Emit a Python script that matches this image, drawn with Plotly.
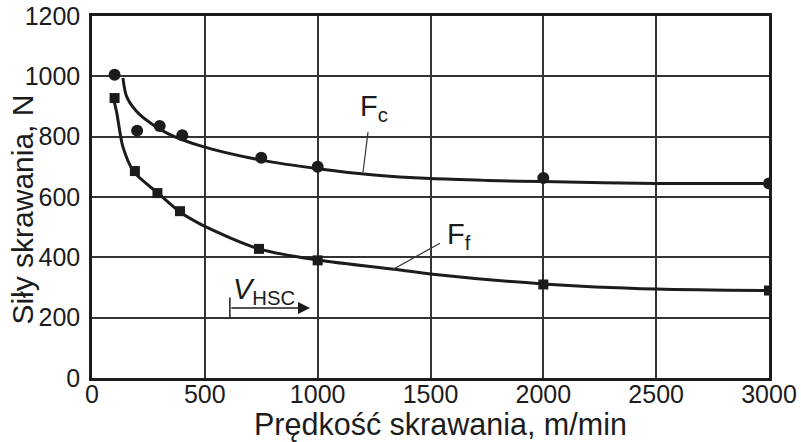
import plotly.graph_objects as go

# Measured cutting forces (points)
v_fc = [100, 200, 300, 400, 750, 1000, 2000, 3000]
fc_pts = [1005, 820, 835, 805, 730, 700, 663, 645]
v_ff = [100, 190, 290, 390, 740, 1000, 2000, 3000]
ff_pts = [928, 686, 613, 553, 428, 390, 310, 290]

# Fitted trend curves
v_fc_fit = [137, 155, 213, 332, 496, 744, 1010, 1250, 1500, 1750, 2000, 2500, 3000]
fc_fit = [995, 930, 872, 812, 766, 723, 693, 673, 661, 655, 651, 645, 645]
v_ff_fit = [97, 110, 137, 186, 292, 390, 496, 740, 1000, 1365, 1500, 2000, 2500, 3000]
ff_fit = [921, 878, 766, 683, 613, 550, 504, 428, 391, 358, 345, 312, 295, 290]

x_ticks = [0, 500, 1000, 1500, 2000, 2500, 3000]
y_ticks = [0, 200, 400, 600, 800, 1000, 1200]

FONT = "Liberation Sans, Arial, sans-serif"
INK = "#1c1c1c"
GRID = "#333333"

fig = go.Figure()

fig.add_trace(go.Scatter(x=v_fc_fit, y=fc_fit, mode="lines",
                         line=dict(color=INK, width=3, shape="spline", smoothing=0.8),
                         hoverinfo="skip"))
fig.add_trace(go.Scatter(x=v_ff_fit, y=ff_fit, mode="lines",
                         line=dict(color=INK, width=3, shape="spline", smoothing=0.8),
                         hoverinfo="skip"))
fig.add_trace(go.Scatter(x=v_fc, y=fc_pts, mode="markers",
                         marker=dict(symbol="circle", size=12, color=INK)))
fig.add_trace(go.Scatter(x=v_ff, y=ff_pts, mode="markers",
                         marker=dict(symbol="square", size=10, color=INK)))

# Leader lines for the series labels
fig.add_shape(type="line", x0=1201, y0=683, x1=1223, y1=815,
              line=dict(color=GRID, width=1.2))
fig.add_shape(type="line", x0=1329, y0=358, x1=1542, y1=447,
              line=dict(color=GRID, width=1.2))

fig.add_annotation(x=1180, y=895, xanchor="left", yanchor="middle",
                   text="F<sub>c</sub>", showarrow=False,
                   font=dict(family=FONT, size=29, color=INK))
fig.add_annotation(x=1565, y=470, xanchor="left", yanchor="middle",
                   text="F<sub>f</sub>", showarrow=False,
                   font=dict(family=FONT, size=29, color=INK))

# HSC range marker
fig.add_shape(type="line", x0=611, y0=200, x1=611, y1=267,
              line=dict(color=INK, width=1.5))
fig.add_annotation(x=966, y=232, ax=611, ay=232, axref="x", ayref="y",
                   xref="x", yref="y", text="", showarrow=True,
                   arrowhead=2, arrowsize=1.6, arrowwidth=1.5, arrowcolor=INK)
fig.add_annotation(x=615, y=290, xanchor="left", yanchor="middle",
                   text="<i>V</i><sub>HSC</sub>", showarrow=False,
                   font=dict(family=FONT, size=29, color=INK))

# Axis titles
fig.add_annotation(xref="paper", yref="paper", x=0.5155, y=-0.128,
                   xanchor="center", yanchor="middle", showarrow=False,
                   text="Prędkość skrawania, m/min",
                   font=dict(family=FONT, size=30.5, color=INK))
fig.add_annotation(xref="paper", yref="paper", x=-0.104, y=0.464,
                   xanchor="center", yanchor="middle", showarrow=False,
                   textangle=-90, text="Siły skrawania, N",
                   font=dict(family=FONT, size=30, color=INK))

fig.update_xaxes(range=[0, 3000], tickvals=x_ticks, ticks="",
                 showgrid=True, gridcolor=GRID, gridwidth=1.5,
                 showline=True, linecolor=INK, linewidth=2.5, mirror=True,
                 zeroline=False, automargin=False, ticklabelstandoff=-8,
                 tickfont=dict(family=FONT, size=25, color=INK))
fig.update_yaxes(range=[0, 1200], tickvals=y_ticks, ticks="",
                 showgrid=True, gridcolor=GRID, gridwidth=1.5,
                 showline=True, linecolor=INK, linewidth=2.5, mirror=True,
                 zeroline=False, automargin=False, ticklabelstandoff=4,
                 tickfont=dict(family=FONT, size=25, color=INK))

fig.update_layout(width=801, height=442, showlegend=False,
                  margin=dict(l=92, r=32, t=16, b=64),
                  plot_bgcolor="white", paper_bgcolor="white")

fig.write_html("out.html")
